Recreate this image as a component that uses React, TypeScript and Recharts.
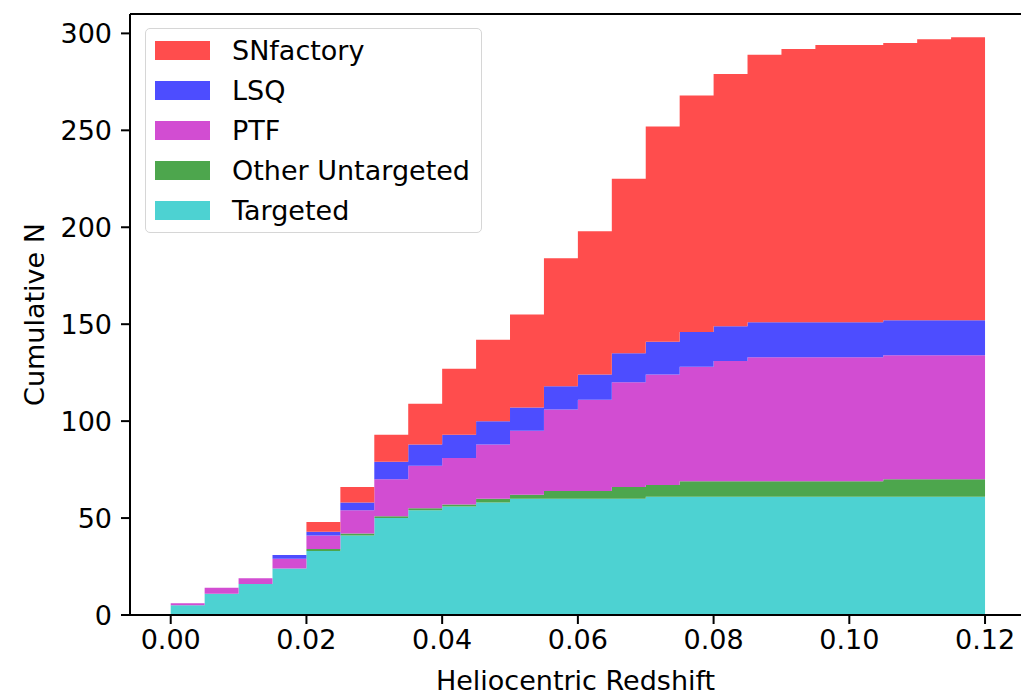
// Cumulative N vs heliocentric redshift, stacked by survey (matplotlib-style stepfilled hist).

import { AreaChart, Area, XAxis, YAxis, Legend, ReferenceLine, Label } from "recharts";

// left edge of each 0.005 bin, plus the closing edge at 0.12
const EDGES = [
  0, 0.005, 0.01, 0.015, 0.02, 0.025, 0.03, 0.035, 0.04, 0.045, 0.05, 0.055,
  0.06, 0.065, 0.07, 0.075, 0.08, 0.085, 0.09, 0.095, 0.1, 0.105, 0.11, 0.115,
  0.12,
];

// cumulative counts per survey, one value per bin
const TARGETED = [5, 11, 16, 24, 33, 41, 50, 54, 56, 58, 60, 60, 60, 60, 61, 61, 61, 61, 61, 61, 61, 61, 61, 61];
const OTHER_UNTARGETED = [0, 0, 0, 0, 1, 1, 1, 1, 1, 2, 2, 4, 4, 6, 6, 8, 8, 8, 8, 8, 8, 9, 9, 9];
const PTF = [1, 3, 3, 5, 7, 12, 19, 22, 24, 28, 33, 42, 47, 54, 57, 59, 62, 64, 64, 64, 64, 64, 64, 64];
const LSQ = [0, 0, 0, 2, 2, 4, 9, 11, 12, 12, 12, 12, 13, 15, 17, 18, 18, 18, 18, 18, 18, 18, 18, 18];
const SNFACTORY = [0, 0, 0, 0, 5, 8, 14, 21, 34, 42, 48, 66, 74, 90, 111, 122, 130, 138, 141, 143, 143, 143, 145, 146];

const X_TICKS = [0, 0.02, 0.04, 0.06, 0.08, 0.1, 0.12];
const Y_TICKS = [0, 50, 100, 150, 200, 250, 300];

// bottom of the stack first
const SERIES = [
  { key: "targeted", name: "Targeted", color: "#4dd2d2", values: TARGETED },
  { key: "other", name: "Other Untargeted", color: "#4da64d", values: OTHER_UNTARGETED },
  { key: "ptf", name: "PTF", color: "#d24dd2", values: PTF },
  { key: "lsq", name: "LSQ", color: "#4d4dff", values: LSQ },
  { key: "snf", name: "SNfactory", color: "#ff4d4d", values: SNFACTORY },
];

const FONT = "'DejaVu Sans', sans-serif";
const FS = 27;

// step-after rows: the last edge repeats the final bin so the last step gets its width
const rows = EDGES.map((z, i) => {
  const row: Record<string, number> = { z };
  for (const s of SERIES) row[s.key] = s.values[Math.min(i, s.values.length - 1)];
  return row;
});

function LegendBox() {
  return (
    <div
      style={{
        boxSizing: "border-box",
        width: 337,
        height: 205,
        padding: "1px 0 4px 9px",
        border: "1.5px solid #d6d6d6",
        borderRadius: 5,
        background: "rgba(255,255,255,0.8)",
        fontFamily: FONT,
        fontSize: FS,
        color: "#000",
      }}
    >
      {[...SERIES].reverse().map((s) => (
        <div key={s.key} style={{ display: "flex", alignItems: "center", height: 40 }}>
          <span style={{ display: "inline-block", width: 55, height: 19, background: s.color }} />
          <span style={{ marginLeft: 22, whiteSpace: "nowrap" }}>{s.name}</span>
        </div>
      ))}
    </div>
  );
}

export default function App() {
  return (
    <div style={{ width: 1021, height: 695 }}>
      <style>{"body{margin:0}"}</style>
      <AreaChart width={1021} height={695} data={rows} margin={{ top: 14, right: 0, bottom: 0, left: 0 }}>
        <XAxis
          dataKey="z"
          type="number"
          domain={[-0.006, 0.1253]}
          allowDataOverflow
          ticks={X_TICKS}
          tickFormatter={(v: number) => v.toFixed(2)}
          height={80}
          tickSize={9}
          tickMargin={6}
          stroke="#000"
          strokeWidth={2}
          tick={{ fontSize: FS, fill: "#000", fontFamily: FONT }}
        >
          <Label
            content={({ viewBox }: any) => (
              <text
                x={viewBox.x + viewBox.width / 2}
                y={viewBox.y + 75}
                textAnchor="middle"
                fontSize={FS}
                fontFamily={FONT}
                fill="#000"
              >
                Heliocentric Redshift
              </text>
            )}
          />
        </XAxis>
        <YAxis
          type="number"
          domain={[0, 310]}
          allowDataOverflow
          ticks={Y_TICKS}
          width={130}
          tickSize={9}
          tickMargin={9}
          stroke="#000"
          strokeWidth={2}
          tick={{ fontSize: FS, fill: "#000", fontFamily: FONT }}
        >
          <Label
            content={({ viewBox }: any) => {
              const x = viewBox.x + 44;
              const y = viewBox.y + viewBox.height / 2;
              return (
                <text
                  x={x}
                  y={y}
                  transform={`rotate(-90 ${x} ${y})`}
                  textAnchor="middle"
                  fontSize={FS}
                  fontFamily={FONT}
                  fill="#000"
                >
                  Cumulative N
                </text>
              );
            }}
          />
        </YAxis>
        {SERIES.map((s) => (
          <Area
            key={s.key}
            dataKey={s.key}
            name={s.name}
            stackId="cum"
            type="stepAfter"
            fill={s.color}
            fillOpacity={1}
            stroke="none"
            isAnimationActive={false}
          />
        ))}
        <ReferenceLine y={310} stroke="#000" strokeWidth={2} />
        <Legend
          layout="horizontal"
          verticalAlign="middle"
          align="center"
          wrapperStyle={{ top: 28, left: 145, width: 337, height: 205 }}
          content={() => <LegendBox />}
        />
      </AreaChart>
    </div>
  );
}
